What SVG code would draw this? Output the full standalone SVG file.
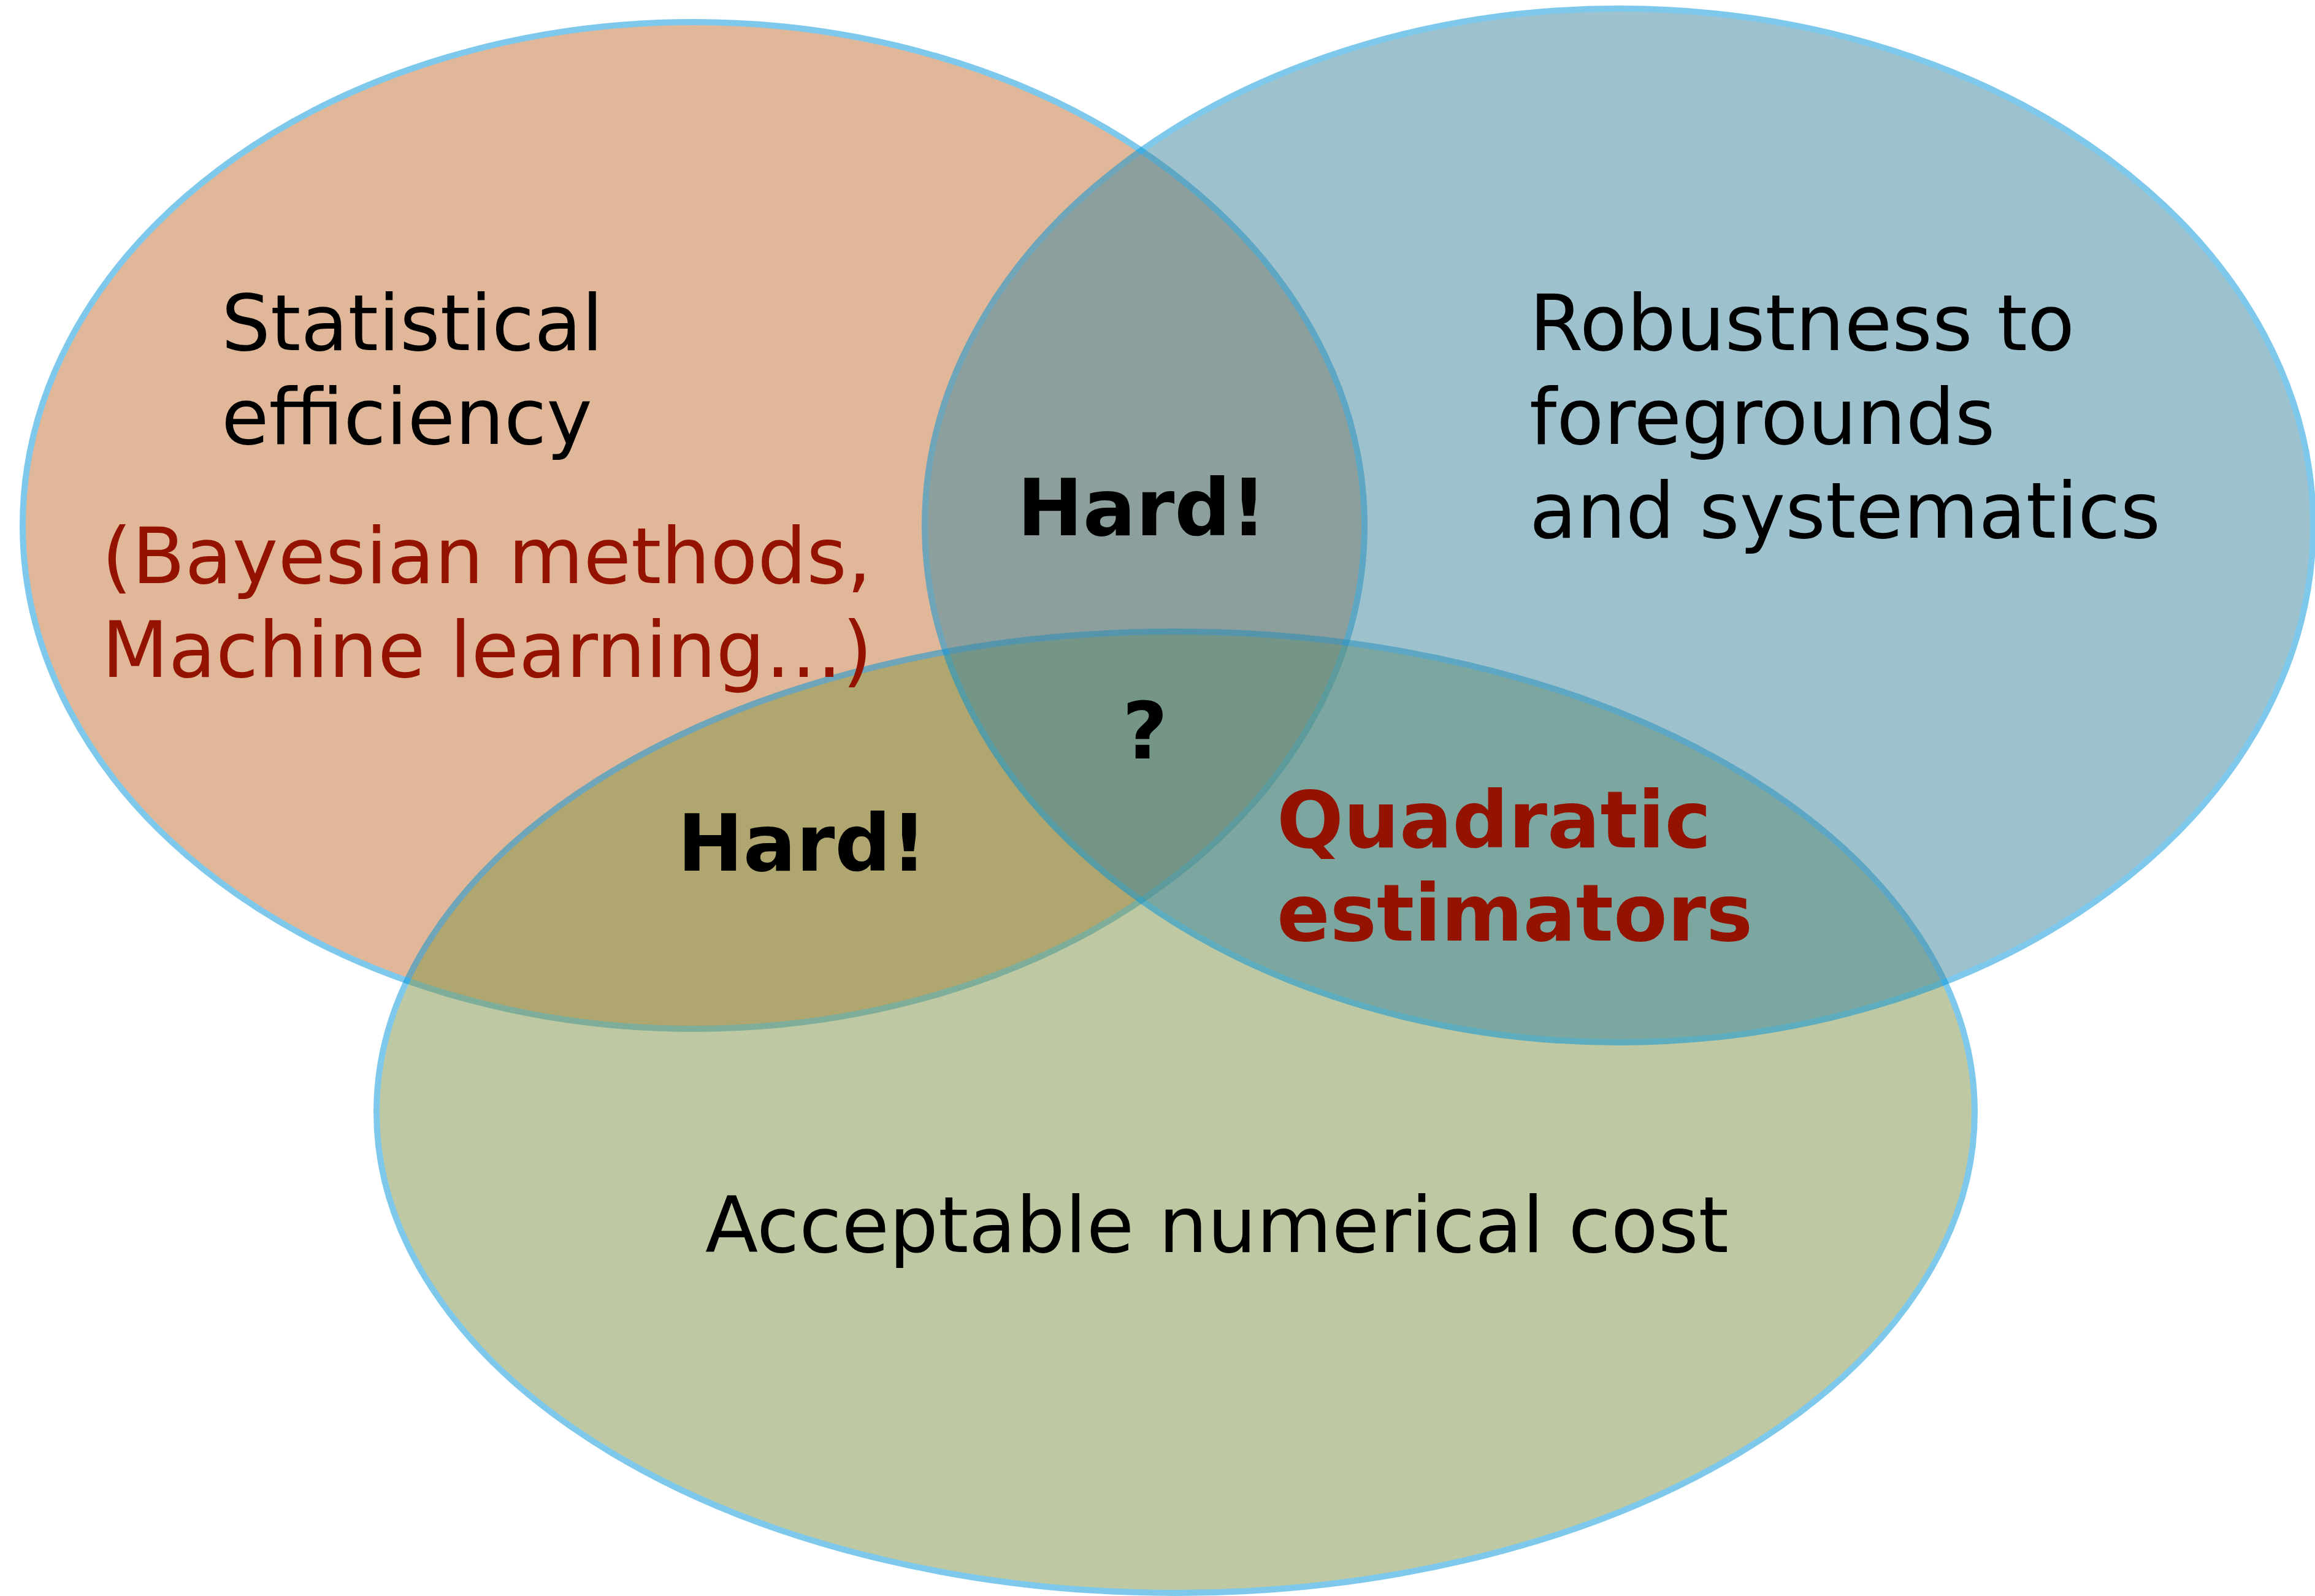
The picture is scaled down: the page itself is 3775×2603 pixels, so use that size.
<svg xmlns="http://www.w3.org/2000/svg" width="3775" height="2603" viewBox="0 0 3775 2603">
  <style>
    .set { stroke: #0093d9; stroke-width: 10; opacity: 0.5; }
    .lbl { font-family: "DejaVu Sans", Verdana, "Liberation Sans", sans-serif; font-size: 126px; fill: #000000; }
    .red { fill: #941200; }
    .bold { font-weight: bold; font-size: 128px; }
  </style>
  <rect width="3775" height="2603" fill="#ffffff"/>

  <!-- Venn sets: each shape drawn at half opacity so overlaps blend -->
  <g id="set-efficiency">
    <ellipse class="set" cx="1131" cy="857" rx="1094" ry="821" fill="#c37335"/>
  </g>
  <g id="set-cost">
    <ellipse class="set" cx="1917" cy="1814" rx="1303" ry="784" fill="#7f9549"/>
  </g>
  <g id="set-robustness">
    <ellipse class="set" cx="2640" cy="857" rx="1132" ry="843" fill="#3d879f"/>
  </g>

  <g id="connectors"></g>

  <!-- Labels -->
  <g id="label-efficiency" class="lbl">
    <text x="361" y="571">Statistical</text>
    <text x="361" y="724">efficiency</text>
    <text class="red" x="166" y="951">(Bayesian methods,</text>
    <text class="red" x="166" y="1104">Machine learning…)</text>
  </g>
  <g id="label-robustness" class="lbl">
    <text x="2494" y="571">Robustness to</text>
    <text x="2494" y="724">foregrounds</text>
    <text x="2494" y="877">and systematics</text>
  </g>
  <g id="label-cost" class="lbl">
    <text x="1150" y="2042">Acceptable numerical cost</text>
  </g>
  <g id="label-eff-rob" class="lbl bold">
    <text x="1862" y="873" text-anchor="middle">Hard!</text>
  </g>
  <g id="label-eff-cost" class="lbl bold">
    <text x="1308" y="1420" text-anchor="middle">Hard!</text>
  </g>
  <g id="label-all" class="lbl bold">
    <text x="1867" y="1237" text-anchor="middle">?</text>
  </g>
  <g id="label-rob-cost" class="lbl bold red">
    <text x="2082" y="1382">Quadratic</text>
    <text x="2082" y="1534">estimators</text>
  </g>
</svg>
